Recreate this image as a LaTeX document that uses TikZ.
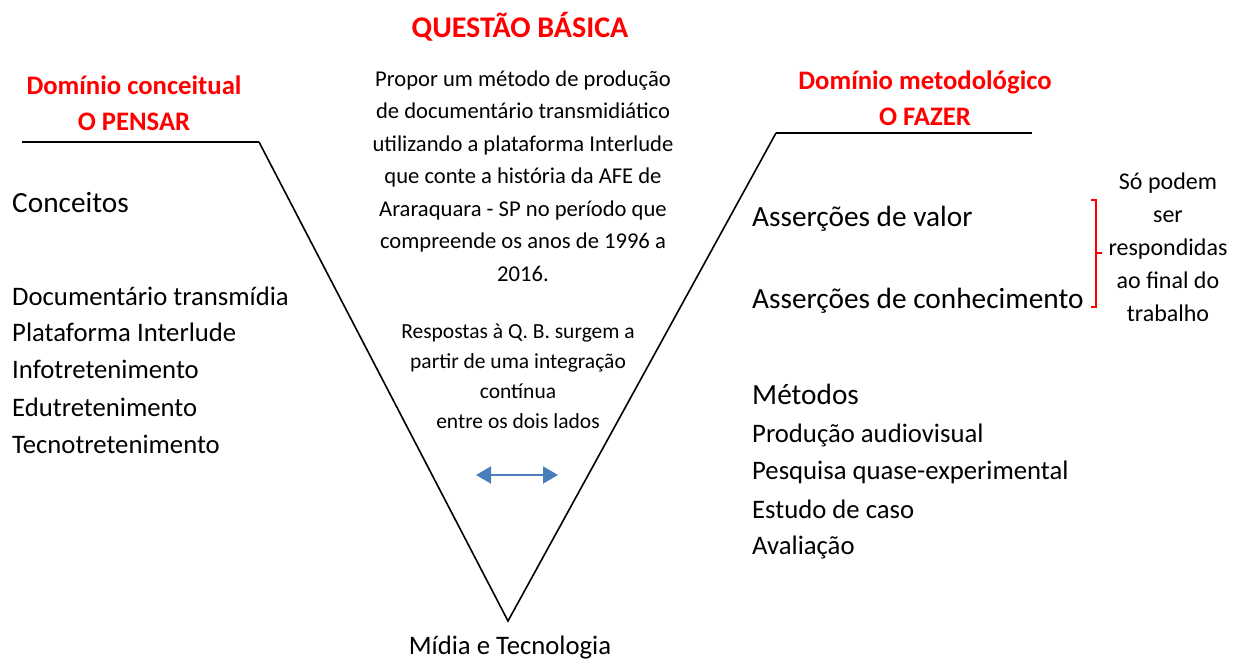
\documentclass[tikz,border=0pt]{standalone}
\usepackage{fontspec}
\setmainfont{Carlito}
\usetikzlibrary{arrows.meta}

\definecolor{vermelho}{RGB}{255,0,0}
\definecolor{azul}{RGB}{74,126,187}

\begin{document}
\begin{tikzpicture}[x=1pt, y=-1pt,
    titulo/.style={text=vermelho, font=\fontsize{26.7}{36}\selectfont\bfseries, align=center},
    item/.style={anchor=west, inner sep=0pt, font=\fontsize{26.7}{30}\selectfont},
    grande/.style={item, font=\fontsize{29.3}{34}\selectfont},
    texto/.style={align=center, inner sep=0pt, font=\fontsize{22.6}{32.5}\selectfont},
    linha/.style={line width=1.6pt}]
    \useasboundingbox (0,0) rectangle (1251,660);

    % titulos
    \node[titulo, font=\fontsize{30}{36}\selectfont\bfseries] (qb) at (520,27) {QUESTÃO BÁSICA};
    \node[titulo] (pensar) at (134,103) {Domínio conceitual\\O PENSAR};
    \node[titulo] (fazer) at (925,98) {Domínio metodológico\\O FAZER};

    % o V
    \coordinate (e0) at (22,142);
    \coordinate (e1) at (259,142);
    \coordinate (fundo) at (508,621);
    \coordinate (d1) at (776,133);
    \coordinate (d0) at (1032,133);
    \draw[linha] (e0) -- (e1);
    \draw[linha] (d1) -- (d0);
    \draw[linha] (e1) -- (fundo) -- (d1);

    % centro
    \node[texto] (questao) at (523,176) {Propor um método de produção\\de documentário transmidiático\\utilizando a plataforma Interlude\\que conte a história da AFE de\\Araraquara - SP no período que\\compreende os anos de 1996 a\\2016.};
    \node[texto, font=\fontsize{21.5}{30}\selectfont] (respostas) at (518,376) {Respostas à Q. B. surgem a\\partir de uma integração\\contínua\\entre os dois lados};
    \coordinate (a0) at (476,475);
    \coordinate (a1) at (558,475);
    \draw[azul, line width=2pt, {Triangle[length=15pt,width=17pt]}-{Triangle[length=15pt,width=17pt]}] (a0) -- (a1);
    \node[item, anchor=center] (midia) at (510,648) {Mídia e Tecnologia};

    % lado esquerdo
    \node[grande] (conceitos) at (12,203) {Conceitos};
    \node[item] (doc) at (12,296) {Documentário transmídia};
    \node[item] (plat) at (12,332) {Plataforma Interlude};
    \node[item] (info) at (12,369) {Infotretenimento};
    \node[item] (edu) at (12,407) {Edutretenimento};
    \node[item] (tecno) at (12,444) {Tecnotretenimento};

    % lado direito
    \node[grande] (valor) at (752,219) {Asserções de valor};
    \node[grande] (conhec) at (752,301) {Asserções de conhecimento};
    \node[grande] (metodos) at (752,394) {Métodos};
    \node[item] (prod) at (752,435) {Produção audiovisual};
    \node[item] (pesq) at (752,472) {Pesquisa quase-experimental};
    \node[item] (estudo) at (752,509) {Estudo de caso};
    \node[item] (aval) at (752,547) {Avaliação};

    % chave
    \coordinate (c0) at (1091,200);
    \coordinate (c1) at (1091,307);
    \draw[vermelho, line width=1.8pt] (c0) -- ++(5,0) -- ++(0,53) -- ++(6,0) -- ++(-6,0) -- ++(0,54) -- (c1);
    \node[texto, font=\fontsize{24}{33}\selectfont] (final) at (1168,247) {Só podem\\ser\\respondidas\\ao final do\\trabalho};
\end{tikzpicture}
\end{document}
